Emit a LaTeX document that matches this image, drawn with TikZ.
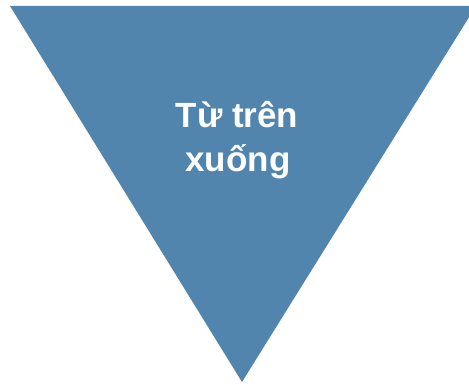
\documentclass[tikz,border=0pt]{standalone}
\usepackage{fontspec}
\setmainfont{Liberation Sans}
\definecolor{tri}{RGB}{82,133,173}
\begin{document}
\begin{tikzpicture}[x=1pt,y=1pt,
  label/.style={text=white,font=\fontsize{35}{44}\selectfont\bfseries,align=center,inner sep=0pt}]
\useasboundingbox (0,0) rectangle (469,384);
\fill[tri] (10,378) -- (476,378) -- (242,2) -- cycle;
\node[label,anchor=base] (t1) at (237,257) {Từ trên};
\node[label,anchor=base] (t2) at (238,213) {xuống};
\end{tikzpicture}
\end{document}
